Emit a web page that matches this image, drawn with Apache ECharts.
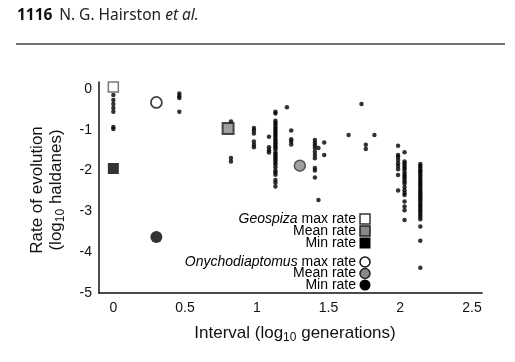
<!DOCTYPE html>
<html><head><meta charset="utf-8">
<script src="https://cdn.jsdelivr.net/npm/echarts@6/dist/echarts.min.js"></script>
<style>html,body{margin:0;padding:0;background:#fff}#c{width:515px;height:362px}</style>
</head><body><div id="c"></div>
<script>
var xTicks = [0, 0.5, 1, 1.5, 2, 2.5];
var yTicks = [0, -1, -2, -3, -4, -5];
// small black dots: column x positions and their y values
var colX = [0, 0.46, 0.82, 0.98, 1.085, 1.13, 1.21, 1.24, 1.405, 1.43, 1.47, 1.64, 1.73, 1.76, 1.82, 1.985, 2.03, 2.14];
var colY = [
  [-0.15, -0.27, -0.37, -0.47, -0.56, -0.93, -0.98],
  [-0.11, -0.17, -0.22, -0.56],
  [-0.8, -1.69, -1.78],
  [-0.96, -1.02, -1.09, -1.29, -1.37, -1.43],
  [-1.17, -1.43, -1.5, -1.56],
  [-0.56, -0.6, -0.78, -0.83, -0.88, -0.93, -0.98, -1.03, -1.08, -1.13, -1.18, -1.23, -1.28, -1.33, -1.38, -1.43, -1.48, -1.55, -1.6, -1.65, -1.7, -1.75, -1.8, -1.85, -1.92, -2.0, -2.05, -2.1, -2.23, -2.3, -2.39],
  [-0.45],
  [-1.02, -1.23, -1.29, -1.36],
  [-1.25, -1.32, -1.38, -1.45, -1.54, -1.62, -1.7, -1.94, -2.0, -2.17],
  [-1.45, -2.72],
  [-1.31, -1.62],
  [-1.13],
  [-0.37],
  [-1.37, -1.47],
  [-1.13],
  [-1.39, -1.62, -1.67, -1.74, -1.82, -1.89, -1.97, -2.11, -2.49],
  [-1.55, -1.78, -1.83, -1.88, -1.93, -1.98, -2.05, -2.1, -2.15, -2.2, -2.26, -2.32, -2.4, -2.48, -2.55, -2.6, -2.76, -2.88, -2.97, -3.21],
  [-1.84, -1.89, -1.94, -1.99, -2.03, -2.08, -2.13, -2.18, -2.23, -2.28, -2.33, -2.38, -2.43, -2.48, -2.53, -2.58, -2.63, -2.68, -2.73, -2.78, -2.83, -2.88, -2.93, -2.98, -3.03, -3.08, -3.13, -3.19, -3.37, -3.72, -4.38]
];
var geoMax = [[0, 0.05]];
var geoMean = [[0.8, -0.97]];
var geoMin = [[0, -1.95]];
var onyMax = [[0.3, -0.33]];
var onyMean = [[1.3, -1.88]];
var onyMin = [[0.3, -3.63]];
var legendLabels = [
  ['Geospiza', ' max rate'], ['', 'Mean rate'], ['', 'Min rate'],
  ['Onychodiaptomus', ' max rate'], ['', 'Mean rate'], ['', 'Min rate']
];

var dots = [];
colX.forEach(function (x, i) { colY[i].forEach(function (y) { dots.push([x, y]); }); });

var F = '"Liberation Sans", Arial, sans-serif';
var chart = echarts.init(document.getElementById('c'), null, {renderer: 'canvas'});

var legendY = [219, 231, 243, 262, 273.5, 285];
var graphics = [
  {type: 'text', left: 17, top: 8, style: {
    text: '{b|1116}  {r|N. G. Hairston }{i|et al.}',
    rich: {
      b: {fontFamily: '"Noto Sans", sans-serif', fontWeight: 'bold', fontSize: 15.5, fill: '#111'},
      r: {fontFamily: '"Noto Sans", sans-serif', fontSize: 15.5, fill: '#222'},
      i: {fontFamily: '"Noto Sans", sans-serif', fontStyle: 'italic', fontSize: 15.5, fill: '#222'}
    }}},
  {type: 'line', shape: {x1: 16, y1: 44, x2: 505, y2: 44}, style: {stroke: '#444', lineWidth: 1.5}},
  {type: 'text', x: 47, y: 190, rotation: Math.PI / 2, style: {
    text: 'Rate of evolution\n({t|log}{s|10}{t| haldanes)}', align: 'center', verticalAlign: 'middle',
    font: '17px ' + F, fill: '#111', lineHeight: 19,
    rich: {t: {fontSize: 17, fontFamily: F, fill: '#111'}, s: {fontSize: 12, fontFamily: F, fill: '#111', padding: [9, 0, 0, 0]}}
  }},
  {type: 'text', x: 295, y: 333, style: {
    text: '{t|Interval (log}{s|10}{t| generations)}', align: 'center', verticalAlign: 'middle',
    rich: {t: {fontSize: 17, fontFamily: F, fill: '#111'}, s: {fontSize: 12, fontFamily: F, fill: '#111', padding: [9, 0, 0, 0]}}
  }}
];
legendLabels.forEach(function (l, i) {
  graphics.push({type: 'text', x: 356, y: legendY[i], style: {
    text: (l[0] ? '{i|' + l[0] + '}' : '') + '{r|' + l[1] + '}', align: 'right', verticalAlign: 'middle',
    rich: {
      i: {fontStyle: 'italic', fontSize: 14, fontFamily: F, fill: '#000'},
      r: {fontSize: 14, fontFamily: F, fill: '#000'}
    }}});
});
var lx = 365;
graphics.push({type: 'rect', shape: {x: lx - 5, y: legendY[0] - 5, width: 10, height: 10}, style: {fill: '#fff', stroke: '#333', lineWidth: 1.5}});
graphics.push({type: 'rect', shape: {x: lx - 5, y: legendY[1] - 5, width: 10, height: 10}, style: {fill: '#888', stroke: '#222', lineWidth: 1.5}});
graphics.push({type: 'rect', shape: {x: lx - 5.5, y: legendY[2] - 5.5, width: 11, height: 11}, style: {fill: '#000'}});
graphics.push({type: 'circle', shape: {cx: lx, cy: legendY[3], r: 5}, style: {fill: '#fff', stroke: '#111', lineWidth: 1.5}});
graphics.push({type: 'circle', shape: {cx: lx, cy: legendY[4], r: 5}, style: {fill: '#888', stroke: '#222', lineWidth: 1.5}});
graphics.push({type: 'circle', shape: {cx: lx, cy: legendY[5], r: 5.5}, style: {fill: '#000'}});

chart.setOption({
  animation: false,
  backgroundColor: '#fff',
  grid: {left: 99, right: 33, top: 82, bottom: 69, containLabel: false},
  xAxis: {
    type: 'value', min: -0.1, max: 2.57,
    axisLine: {show: true, onZero: false, lineStyle: {color: '#111', width: 1.5}},
    axisTick: {show: false}, splitLine: {show: false},
    axisLabel: {customValues: xTicks, fontSize: 14, fontFamily: F, color: '#111', margin: 8}
  },
  yAxis: {
    type: 'value', min: -5, max: 0.17,
    axisLine: {show: true, onZero: false, lineStyle: {color: '#111', width: 1.5}},
    axisTick: {show: false}, splitLine: {show: false},
    axisLabel: {customValues: yTicks, fontSize: 14, fontFamily: F, color: '#111', margin: 7}
  },
  graphic: graphics,
  series: [
    {type: 'scatter', data: dots, symbol: 'circle', symbolSize: 4.5, itemStyle: {color: '#000'}},
    {type: 'scatter', data: geoMax, symbol: 'rect', symbolSize: 10, itemStyle: {color: '#fff', borderColor: '#555', borderWidth: 1.5}},
    {type: 'scatter', data: geoMean, symbol: 'rect', symbolSize: 11, itemStyle: {color: '#888', borderColor: '#222', borderWidth: 2}},
    {type: 'scatter', data: geoMin, symbol: 'rect', symbolSize: 11, itemStyle: {color: '#000'}},
    {type: 'scatter', data: onyMax, symbol: 'circle', symbolSize: 11, itemStyle: {color: '#fff', borderColor: '#111', borderWidth: 1.8}},
    {type: 'scatter', data: onyMean, symbol: 'circle', symbolSize: 11, itemStyle: {color: '#888', borderColor: '#333', borderWidth: 1.5}},
    {type: 'scatter', data: onyMin, symbol: 'circle', symbolSize: 12, itemStyle: {color: '#000'}}
  ]
});
</script></body></html>
